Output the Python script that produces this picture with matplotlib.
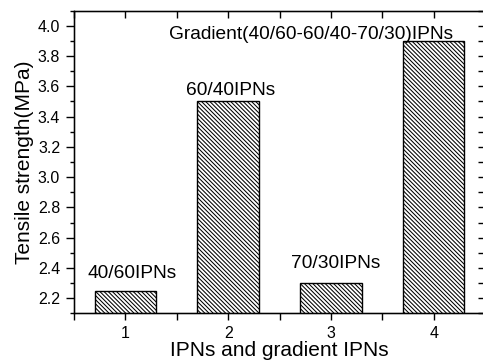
import matplotlib
matplotlib.use("Agg")
import matplotlib.pyplot as plt
from matplotlib.ticker import MultipleLocator, FixedLocator, FixedFormatter

plt.rcParams['font.family'] = ['Liberation Sans', 'DejaVu Sans']
plt.rcParams['hatch.linewidth'] = 0.75

categories = [1, 2, 3, 4]
values = [2.25, 3.5, 2.3, 3.9]
labels = ["40/60IPNs", "60/40IPNs", "70/30IPNs", "Gradient(40/60-60/40-70/30)IPNs"]
label_pos = [(1.07, 2.332), (2.02, 3.541), (3.05, 2.399), (2.806, 3.91)]
xtick_labels = ["1", "2", "3", "4"]
ytick_values = [2.2, 2.4, 2.6, 2.8, 3.0, 3.2, 3.4, 3.6, 3.8, 4.0]

fig = plt.figure(figsize=(4.83, 3.63), dpi=100)
ax = fig.add_axes([74/483, 1-313.3/363, (485-74)/483, (313.3-10.7)/363])

ax.bar(categories, values, width=0.6, bottom=0, color='white', edgecolor='black',
       linewidth=1.0, hatch='\\' * 8)
ax.set_xlim(0.5, 4.5)
ax.set_ylim(2.1, 4.1)

for t, (x, y) in zip(labels, label_pos):
    ax.text(x, y, t, ha='center', va='baseline', fontsize=13.8)

# bottom x ticks: every 0.5, labels at integers
xt = [0.5, 1, 1.5, 2, 2.5, 3, 3.5, 4, 4.5]
xt_lab = []
for v in xt:
    xt_lab.append(xtick_labels[int(v) - 1] if float(v).is_integer() else "")
ax.xaxis.set_major_locator(FixedLocator(xt))
ax.xaxis.set_major_formatter(FixedFormatter(xt_lab))
ax.tick_params(axis='x', direction='out', length=5, width=1, labelsize=11.5, pad=4)
ax.set_yticks(ytick_values)
ax.set_yticklabels([f"{v:.1f}" for v in ytick_values])
ax.yaxis.set_minor_locator(MultipleLocator(0.1))
ax.tick_params(axis='y', which='major', direction='out', length=6, width=1, labelsize=11.5, pad=4)
ax.tick_params(axis='y', which='minor', direction='out', length=3, width=1)

ax.set_xlabel("IPNs and gradient IPNs", fontsize=15, labelpad=0)
ax.set_ylabel("Tensile strength(MPa)", fontsize=15, labelpad=3)

for s in ax.spines.values():
    s.set_linewidth(1.0)

# mirrored ticks pointing inward on top and right
axr = ax.twinx()
axr.set_ylim(2.1, 4.1)
axr.yaxis.set_major_locator(MultipleLocator(0.1))
axr.tick_params(axis='y', direction='in', length=5, width=1, labelright=False)
axt = ax.twiny()
axt.set_xlim(0.5, 4.5)
axt.xaxis.set_major_locator(FixedLocator(xt))
axt.tick_params(axis='x', direction='in', length=5, width=1, labeltop=False)

fig.savefig("out.png", dpi=100)
